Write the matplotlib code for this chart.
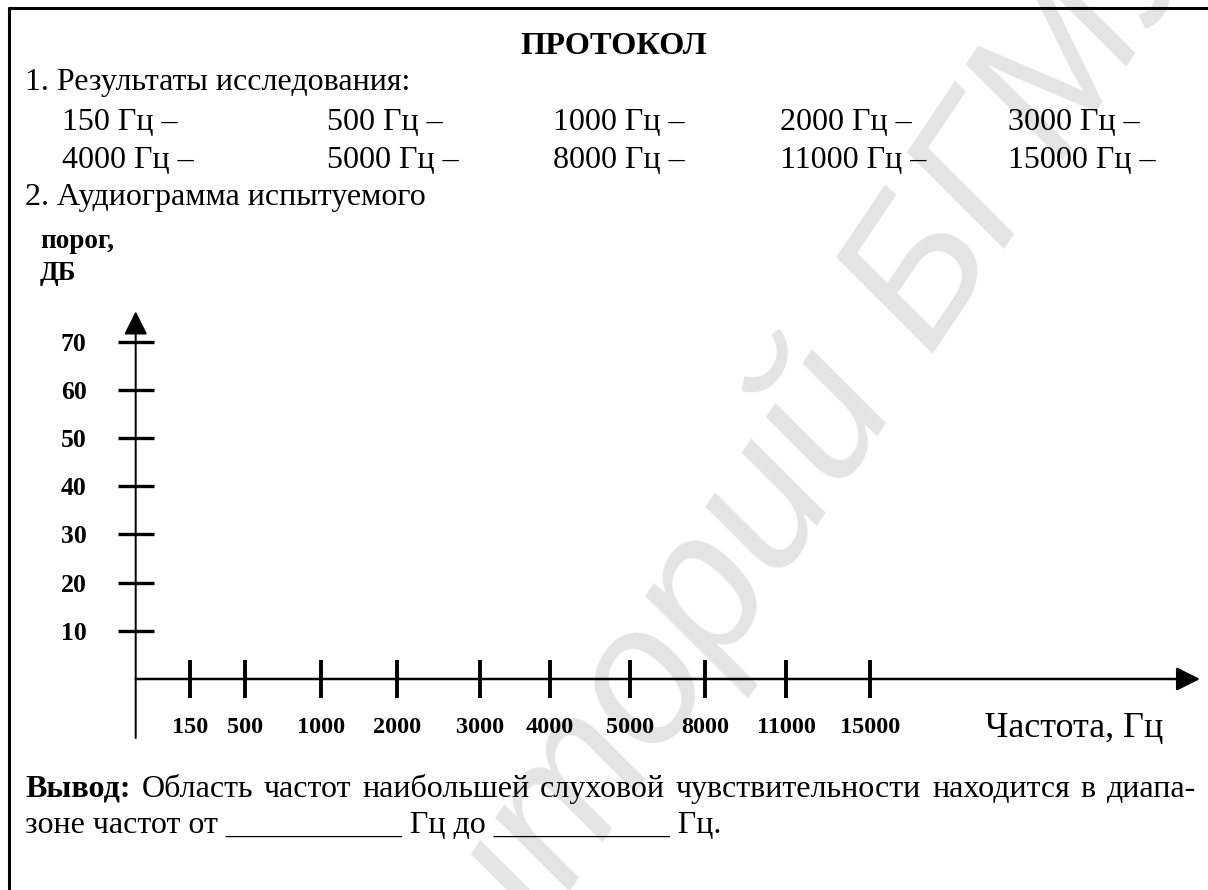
import matplotlib
matplotlib.use('Agg')
import matplotlib.pyplot as plt

W, H = 1208, 890

# data read from the form
freq_labels = ['150', '500', '1000', '2000', '3000', '4000', '5000', '8000', '11000', '15000']
db_ticks = [10, 20, 30, 40, 50, 60, 70]
row1 = ['150', '500', '1000', '2000', '3000']
row2 = ['4000', '5000', '8000', '11000', '15000']
concl_words = ['Вывод:', 'Область', 'частот', 'наибольшей', 'слуховой',
               'чувствительности', 'находится', 'в', 'диапа-']

# layout (pixels)
tick_x = [190, 245, 321, 397, 480, 550, 630, 705, 786, 870]
col_x = [62, 327, 553, 780, 1008]

plt.rcParams['font.family'] = ['Liberation Serif', 'DejaVu Serif']

fig = plt.figure(figsize=(W / 100, H / 100), dpi=100)
bg = fig.add_axes([0, 0, 1, 1])
bg.set_xlim(0, W)
bg.set_ylim(H, 0)
bg.axis('off')

# watermark
bg.text(670, 650, 'Репозиторий БГМУ', rotation=56, rotation_mode='anchor',
        ha='center', va='center', fontsize=140, color='#e4e4e4',
        style='italic', family='Liberation Sans', zorder=0)

# frame
bg.plot([9, 9], [7, H], color='black', lw=2.2, solid_capstyle='butt')
bg.plot([8, W], [8, 8], color='black', lw=2.2, solid_capstyle='butt')

body = 23
bg.text(614, 54, 'ПРОТОКОЛ', ha='center', va='baseline', fontsize=23.3, fontweight='bold')
bg.text(25, 90, '1. Результаты исследования:', va='baseline', fontsize=body)
for x, f in zip(col_x, row1):
    bg.text(x, 130, f + ' Гц –', va='baseline', fontsize=body)
for x, f in zip(col_x, row2):
    bg.text(x, 168, f + ' Гц –', va='baseline', fontsize=body)
bg.text(25, 205, '2. Аудиограмма испытуемого', va='baseline', fontsize=body)
bg.text(40, 248, 'порог,', va='baseline', fontsize=19.5, fontweight='bold')
bg.text(40, 280, 'ДБ', va='baseline', fontsize=19.5, fontweight='bold')
bg.text(985, 737, 'Частота, Гц', va='baseline', fontsize=26)

# conclusion, justified first line
renderer = fig.canvas.get_renderer()
items = []
for i, w in enumerate(concl_words):
    t = bg.text(0, 797, w, va='baseline', fontsize=body,
                fontweight='bold' if i == 0 else 'normal')
    items.append((t, t.get_window_extent(renderer).width))
total = sum(wd for _, wd in items)
gap = (1196 - 25 - total) / (len(items) - 1)
x = 25
for t, wd in items:
    t.set_x(x)
    x += wd + gap
bg.text(25, 833, 'зоне частот от ___________ Гц до ___________ Гц.',
        va='baseline', fontsize=body)

# audiogram axes
x0, x1 = 135.7, 1200
y0, y70 = 679, 341.7
ax = fig.add_axes([x0 / W, (H - y0) / H, (x1 - x0) / W, (y0 - y70) / H])
ax.set_xlim(x0, x1)
ax.set_ylim(0, 70)
ax.patch.set_alpha(0)
for s in ax.spines.values():
    s.set_visible(False)

ax.annotate('', xy=(0, 1.09), xytext=(0, -0.175), xycoords='axes fraction',
            arrowprops=dict(arrowstyle='-|>', color='black', lw=1.4,
                            mutation_scale=36, shrinkA=0, shrinkB=0))
ax.annotate('', xy=(1.0, 0), xytext=(0, 0), xycoords='axes fraction',
            arrowprops=dict(arrowstyle='-|>', color='black', lw=1.8,
                            mutation_scale=36, shrinkA=0, shrinkB=0))

ax.set_yticks(db_ticks)
ax.set_yticklabels([str(v) for v in db_ticks], fontweight='bold')
ax.set_xticks(tick_x)
ax.set_xticklabels(freq_labels, fontweight='bold')
ax.tick_params(axis='y', direction='inout', length=26.6, width=2.4, pad=22, labelsize=18.5)
ax.tick_params(axis='x', direction='inout', length=27, width=2.8, pad=14, labelsize=17.5)

fig.savefig('out.png', dpi=100)
